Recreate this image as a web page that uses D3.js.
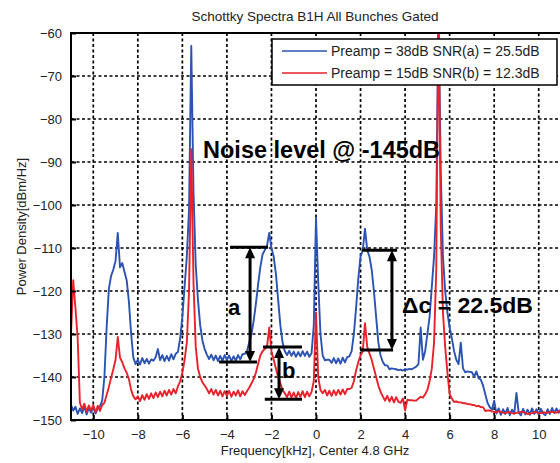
<!DOCTYPE html>
<html>
<head>
<meta charset="utf-8">
<script src="https://cdn.jsdelivr.net/npm/d3@7"></script>
<style>
  body { margin: 0; background: #fff; }
  svg { display: block; font-family: Arial, "Liberation Sans", sans-serif; }
</style>
</head>
<body>
<svg id="chart"></svg>
<script>
// sampling grid of the spectra: -11 kHz .. 11 kHz, 0.1 kHz apart
const freqStart = -11;
const freqStep = 0.1;

// Preamp = 38dB (blue), dBm/Hz
const blueValues = [
  -146.5, -147.8, -146.9, -148.6, -147.3, -148.4, -146.8, -148.7, -147.2, -148.3,
  -147.0, -148.5, -147.3, -146.8, -145.5, -140.0, -128.5, -119.5, -116.5, -115.0,
  -113.0, -106.5, -114.5, -113.5, -115.5, -117.5, -122.5, -130.0, -135.5, -137.0,
  -136.0, -137.1, -135.6, -136.8, -135.8, -136.9, -135.9, -136.2, -135.4, -133.5,
  -136.1, -134.9, -136.3, -135.1, -136.2, -134.7, -135.9, -134.6, -134.2, -131.0,
  -126.0, -119.0, -112.0, -101.0, -63.0, -97.0, -114.0, -122.0, -128.0, -131.5,
  -133.5, -134.8, -135.8, -134.8, -136.1, -135.0, -136.3, -135.1, -136.2, -134.9,
  -136.0, -135.0, -136.3, -135.2, -136.2, -134.9, -135.9, -134.7, -134.6, -134.0,
  -132.0, -130.0, -127.0, -123.0, -118.5, -114.5, -111.5, -110.5, -109.5, -106.5,
  -110.0, -112.0, -116.0, -122.0, -128.0, -132.0, -134.0, -134.9, -133.9, -135.1,
  -134.1, -135.3, -134.2, -135.2, -134.0, -135.1, -134.1, -135.3, -134.5, -128.0,
  -103.0, -118.0, -130.0, -135.0, -136.1, -136.0, -136.0, -136.7, -135.6, -136.8,
  -135.7, -136.9, -135.5, -136.6, -135.4, -135.2, -134.0, -130.0, -124.0, -117.0,
  -112.0, -110.5, -105.5, -110.5, -112.0, -115.0, -120.0, -126.0, -132.0, -135.0,
  -136.5, -137.3, -137.3, -138.2, -138.0, -138.1, -138.2, -138.4, -138.3, -138.5,
  -138.2, -138.3, -138.1, -138.2, -137.9, -137.6, -137.0, -128.5, -136.0, -134.0,
  -130.0, -126.0, -119.0, -112.0, -100.0, -55.0, -92.0, -112.0, -120.0, -125.0,
  -128.5, -131.0, -134.0, -136.0, -137.0, -132.0, -138.0, -138.9, -138.7, -138.8,
  -138.9, -139.9, -138.7, -140.3, -140.6, -142.0, -144.0, -146.0, -147.0, -147.6,
  -145.5, -148.5, -147.3, -148.8, -147.5, -148.6, -147.2, -148.9, -147.6, -148.5,
  -143.7, -148.3, -148.9, -147.4, -148.7, -147.6, -148.8, -147.3, -148.6, -147.5,
  -148.7, -147.4, -148.5, -148.9, -147.5, -148.6, -147.2, -148.4, -147.3, -148.3, -147.4
];

// Preamp = 15dB (red), dBm/Hz
const redValues = [
  -130.0, -117.5, -124.0, -131.0, -146.0, -147.5, -146.2, -148.1, -146.6, -147.8,
  -146.5, -148.2, -146.7, -147.9, -146.5, -146.0, -144.2, -142.3, -140.2, -138.2,
  -136.0, -130.7, -135.5, -136.5, -138.0, -139.0, -140.5, -143.0, -144.5, -145.2,
  -144.5, -145.6, -144.2, -145.3, -144.0, -145.1, -143.8, -144.9, -143.6, -144.7,
  -143.4, -144.5, -143.2, -144.3, -143.0, -144.1, -142.8, -143.8, -142.2, -141.0,
  -139.0, -136.0, -132.0, -120.0, -87.0, -118.0, -133.0, -138.0, -140.0, -141.2,
  -142.0, -142.8, -143.8, -142.8, -144.1, -143.0, -144.3, -143.2, -144.5, -143.3,
  -144.4, -143.2, -144.6, -143.4, -144.3, -143.1, -144.5, -143.3, -144.2, -143.3,
  -142.5, -141.5, -140.5, -139.0, -137.0, -135.0, -134.0, -133.5, -133.0, -128.5,
  -134.0, -136.0, -138.0, -140.0, -141.5, -143.0, -143.8, -144.7, -143.4, -144.8,
  -143.6, -144.9, -143.5, -144.6, -143.3, -144.7, -143.4, -144.5, -143.5, -141.0,
  -125.0, -140.0, -143.0, -143.8, -143.0, -144.3, -143.2, -144.4, -143.1, -144.2,
  -143.0, -144.1, -142.9, -144.0, -142.8, -142.8, -142.5, -141.0, -138.5, -136.5,
  -135.0, -134.0, -127.5, -133.0, -134.5, -136.0, -138.0, -140.0, -142.0, -143.5,
  -144.5, -145.5, -144.4, -145.7, -144.6, -145.9, -144.7, -145.8, -146.0, -145.0,
  -147.8, -145.3, -145.4, -145.4, -145.5, -145.5, -145.0, -144.6, -144.8, -144.0,
  -143.0, -141.0, -138.0, -132.0, -115.0, -52.0, -105.0, -125.0, -133.0, -139.0,
  -144.0, -145.0, -145.8, -145.7, -145.9, -145.9, -146.1, -146.1, -146.3, -146.3,
  -146.5, -146.5, -146.8, -146.7, -147.0, -147.0, -147.9, -147.8, -147.8, -148.0,
  -148.1, -148.2, -148.0, -148.1, -148.3, -148.4, -148.2, -148.2, -148.4, -148.5,
  -148.3, -148.3, -148.1, -148.1, -148.4, -148.6, -148.5, -148.4, -148.2, -148.2,
  -148.4, -148.4, -148.2, -148.3, -148.3, -148.1, -148.1, -148.2, -148.3, -148.0, -147.7
];

const xTicks = [-10, -8, -6, -4, -2, 0, 2, 4, 6, 8, 10];
const yTicks = [-150, -140, -130, -120, -110, -100, -90, -80, -70, -60];

const seriesNames = ["Preamp = 38dB SNR(a) = 25.5dB", "Preamp = 15dB SNR(b) = 12.3dB"];
const seriesColors = ["#2b53b3", "#e8222b"];

const width = 560;
const height = 463;
const plotLeft = 71, plotRight = 561, plotTop = 33, plotBottom = 420;
const font = 'Arial, "Liberation Sans", sans-serif';

const svg = d3.select("#chart")
  .attr("width", width)
  .attr("height", height);

const xScale = d3.scaleLinear().domain([-11, 11]).range([plotLeft, plotRight]);
const yScale = d3.scaleLinear().domain([-150, -60]).range([plotBottom, plotTop]);

// grid
svg.selectAll(".x-grid")
  .data(xTicks)
  .enter().append("line")
  .attr("class", "x-grid")
  .attr("x1", d => xScale(d)).attr("x2", d => xScale(d))
  .attr("y1", plotTop).attr("y2", plotBottom)
  .attr("stroke", "#000")
  .attr("stroke-width", 1.7)
  .attr("stroke-dasharray", "3,2.5");

svg.selectAll(".y-grid")
  .data(yTicks.slice(1, -1))
  .enter().append("line")
  .attr("class", "y-grid")
  .attr("x1", plotLeft).attr("x2", plotRight)
  .attr("y1", d => yScale(d)).attr("y2", d => yScale(d))
  .attr("stroke", "#000")
  .attr("stroke-width", 1.7)
  .attr("stroke-dasharray", "3,2.5");

// spectra
svg.append("clipPath").attr("id", "plot-clip")
  .append("rect")
  .attr("x", plotLeft).attr("y", plotTop)
  .attr("width", plotRight - plotLeft).attr("height", plotBottom - plotTop);

const line = d3.line()
  .x((d, i) => xScale(freqStart + i * freqStep))
  .y(d => yScale(d));

[blueValues, redValues].forEach((values, k) => {
  svg.append("path")
    .datum(values)
    .attr("clip-path", "url(#plot-clip)")
    .attr("fill", "none")
    .attr("stroke", seriesColors[k])
    .attr("stroke-width", 1.9)
    .attr("stroke-linejoin", "round")
    .attr("d", line);
});

// axes
const xAxis = svg.append("g")
  .attr("transform", `translate(0, ${plotBottom})`)
  .call(d3.axisBottom(xScale).tickValues(xTicks).tickSizeInner(-5).tickSizeOuter(0).tickPadding(10));

const yAxis = svg.append("g")
  .attr("transform", `translate(${plotLeft}, 0)`)
  .call(d3.axisLeft(yScale).tickValues(yTicks).tickSizeInner(-5).tickSizeOuter(0).tickPadding(9));

[xAxis, yAxis].map((axis) => {
  axis.select(".domain").remove();
  axis.selectAll(".tick line").attr("stroke", "#000").attr("stroke-width", 2);
  axis.selectAll(".tick text")
    .attr("fill", "#222")
    .style("font-family", font)
    .style("font-size", "13px");
});

svg.append("rect")
  .attr("x", plotLeft).attr("y", plotTop)
  .attr("width", plotRight - plotLeft).attr("height", plotBottom - plotTop)
  .attr("fill", "none")
  .attr("stroke", "#000")
  .attr("stroke-width", 2);

// titles
svg.append("text")
  .attr("x", 315).attr("y", 21)
  .attr("text-anchor", "middle")
  .attr("fill", "#222")
  .style("font-size", "13.5px")
  .text("Schottky Spectra B1H All Bunches Gated");

svg.append("text")
  .attr("x", 315).attr("y", 455)
  .attr("text-anchor", "middle")
  .attr("fill", "#222")
  .style("font-size", "13px")
  .text("Frequency[kHz], Center 4.8 GHz");

svg.append("text")
  .attr("transform", `translate(26, ${(plotTop + plotBottom) / 2}) rotate(-90)`)
  .attr("text-anchor", "middle")
  .attr("fill", "#222")
  .style("font-size", "13px")
  .text("Power Density[dBm/Hz]");

// legend
const legend = svg.append("g");
legend.append("rect")
  .attr("x", 272).attr("y", 39)
  .attr("width", 285).attr("height", 46)
  .attr("fill", "#fff")
  .attr("stroke", "#000")
  .attr("stroke-width", 1.5);

seriesNames.forEach((name, k) => {
  const ly = 51 + k * 22;
  legend.append("line")
    .attr("x1", 282).attr("x2", 327)
    .attr("y1", ly).attr("y2", ly)
    .attr("stroke", seriesColors[k])
    .attr("stroke-width", 1.6);
  legend.append("text")
    .attr("x", 331).attr("y", ly + 5)
    .attr("fill", "#222")
    .style("font-size", "14px")
    .text(name);
});

// annotations (kHz, dB)
function bar(x1, x2, dB) {
  svg.append("line")
    .attr("x1", xScale(x1)).attr("x2", xScale(x2))
    .attr("y1", yScale(dB)).attr("y2", yScale(dB))
    .attr("stroke", "#000").attr("stroke-width", 3);
}

function doubleArrow(xk, dbTop, dbBottom) {
  const cx = xScale(xk);
  const y1 = yScale(dbTop);
  const y2 = yScale(dbBottom);
  const head = 11, half = 5;
  svg.append("line")
    .attr("x1", cx).attr("x2", cx)
    .attr("y1", y1 + head - 1).attr("y2", y2 - head + 1)
    .attr("stroke", "#000").attr("stroke-width", 3);
  svg.append("path")
    .attr("d", `M${cx},${y1}L${cx - half},${y1 + head}L${cx + half},${y1 + head}Z`)
    .attr("fill", "#000");
  svg.append("path")
    .attr("d", `M${cx},${y2}L${cx - half},${y2 - head}L${cx + half},${y2 - head}Z`)
    .attr("fill", "#000");
}

// a
bar(-3.86, -2.15, -109.8);
bar(-4.35, -2.65, -136.5);
doubleArrow(-2.96, -109.8, -136.5);
// b
bar(-2.38, -0.63, -133.0);
bar(-2.30, -0.63, -145.2);
doubleArrow(-1.66, -133.0, -145.2);
// delta c
bar(2.07, 3.64, -110.5);
bar(1.98, 3.46, -133.7);
doubleArrow(3.41, -110.5, -133.7);

function label(txt, xk, dB, size, len) {
  const t = svg.append("text")
    .attr("x", xScale(xk)).attr("y", yScale(dB))
    .attr("fill", "#000")
    .style("font-size", size + "px")
    .style("font-weight", "bold")
    .text(txt);
  if (len) t.attr("textLength", len).attr("lengthAdjust", "spacingAndGlyphs");
}

label("Noise level @ -145dB", -5.07, -89.1, 23, 237);
label("\u0394c = 22.5dB", 3.86, -125.1, 22, 131);
label("a", -3.95, -125.6, 22);
label("b", -1.53, -140.2, 22);
</script>
</body>
</html>
